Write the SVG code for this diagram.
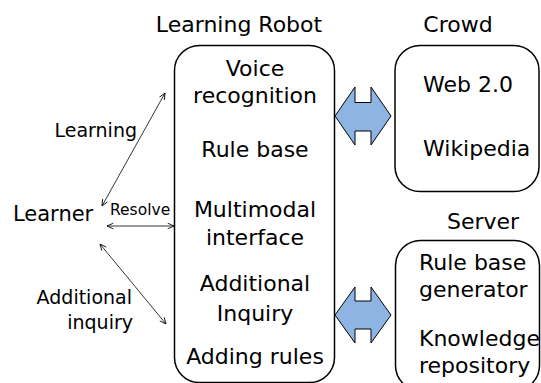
<svg xmlns="http://www.w3.org/2000/svg" width="541" height="383" viewBox="0 0 541 383">
<style>
.t{font-family:"DejaVu Sans","Noto Sans",sans-serif;fill:#000}
.big{font-size:22px}
.lab{font-size:19px}
.sm{font-size:15.5px}
.box{fill:#fff;stroke:#000;stroke-width:1.5}
.blk{fill:#8eb4e3;stroke:#000;stroke-width:1}
.ln{fill:none;stroke:#000;stroke-width:0.8;marker-start:url(#ah);marker-end:url(#ah)}
</style>
<defs>
<marker id="ah" viewBox="0 0 10 10" refX="10" refY="5" markerWidth="7" markerHeight="7" markerUnits="userSpaceOnUse" orient="auto-start-reverse">
<path d="M1,1 L10,5 L1,9" fill="none" stroke="#000" stroke-width="1.2"/>
</marker>
</defs>
<rect width="541" height="383" fill="#fff"/>

<g id="learner">
<text class="t big" x="13" y="221" style="font-size:21px">Learner</text>
</g>

<g id="robot">
<text class="t big" x="239" y="32" text-anchor="middle">Learning Robot</text>
<rect class="box" x="174.5" y="45.5" width="160" height="337" rx="25"/>
<g class="t big" text-anchor="middle">
<text x="255" y="76">Voice<tspan x="255" dy="27">recognition</tspan></text>
<text x="255" y="157">Rule base</text>
<text x="255" y="217">Multimodal<tspan x="255" dy="28">interface</tspan></text>
<text x="255" y="291">Additional<tspan x="255" dy="30">Inquiry</tspan></text>
<text x="255" y="364">Adding rules</text>
</g>
</g>

<g id="crowd">
<text class="t big" x="458" y="32" text-anchor="middle">Crowd</text>
<rect class="box" x="395" y="45.5" width="144" height="146" rx="25"/>
<text class="t big" x="423" y="92">Web 2.0</text>
<text class="t big" x="423" y="156">Wikipedia</text>
</g>

<g id="server">
<text class="t big" x="483" y="229" text-anchor="middle">Server</text>
<rect class="box" x="395.5" y="240.5" width="144" height="150" rx="25"/>
<text class="t big" x="419" y="270">Rule base<tspan x="419" dy="27">generator</tspan></text>
<text class="t big" x="419" y="346">Knowledge<tspan x="419" dy="27">repository</tspan></text>
</g>

<g id="connectors">
<path class="blk" d="M335,116 L355,87 L355,102.5 L371,102.5 L371,87 L391,116 L371,145 L371,131 L355,131 L355,145 Z"/>
<path class="blk" d="M335,315 L355,287 L355,301 L371,301 L371,287 L391,315 L371,343 L371,329 L355,329 L355,343 Z"/>
<line class="ln" x1="102" y1="206" x2="165" y2="93"/>
<line class="ln" x1="107" y1="226" x2="174" y2="226"/>
<line class="ln" x1="100" y1="244" x2="166" y2="324"/>
<text class="t lab" x="137" y="137" text-anchor="end">Learning</text>
<text class="t sm" x="110" y="215">Resolve</text>
<text class="t lab" x="132" y="304" text-anchor="end">Additional<tspan x="133" dy="25">inquiry</tspan></text>
</g>
</svg>
